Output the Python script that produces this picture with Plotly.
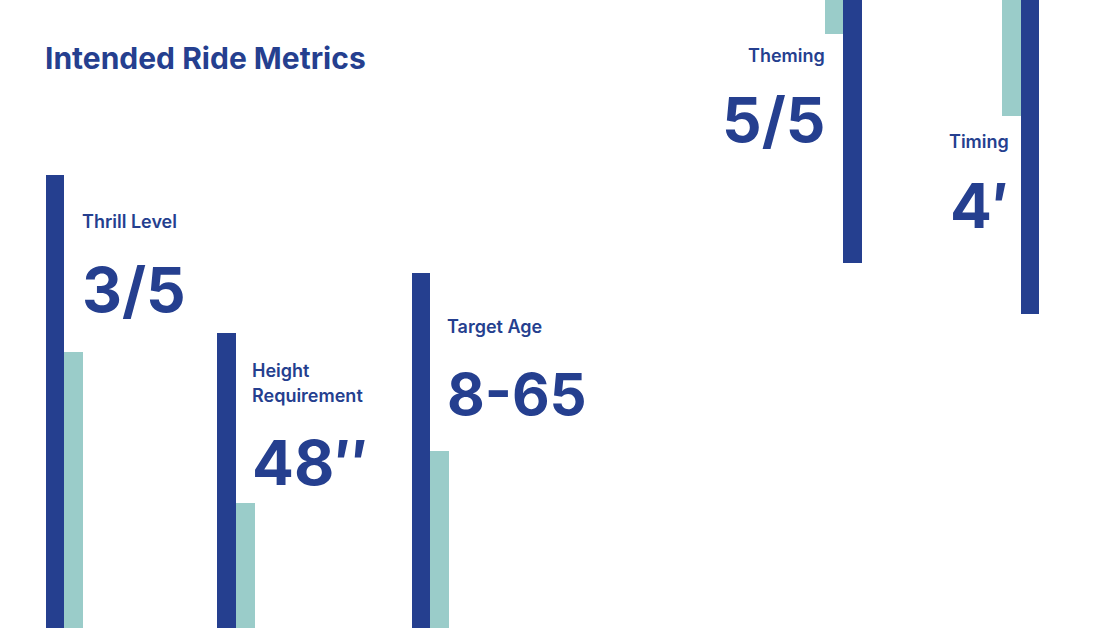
import plotly.graph_objects as go

# ride metrics shown on the card
metrics = ["Thrill Level", "Height<br>Requirement", "Target Age", "Theming", "Timing"]
values = ["3/5", "48\u2033", "8-65", "5/5", "4\u2032"]

# geometry of the decorative bars (pixel space, y grows downward)
bar_w = 18.6
dark_x0 = [45.5, 217.3, 411.8, 843.1, 1020.7]
dark_top = [175, 333, 273, 0, 0]
dark_bottom = [628, 628, 628, 263, 314]
teal_x0 = [64.1, 235.9, 430.4, 824.5, 1002.1]
teal_top = [352, 503, 451, 0, 0]
teal_bottom = [628, 628, 628, 34, 116]

# text placement
label_x = [80, 250, 445, 827, 1011]
label_y = [221, 370, 326, 55, 141]
value_y = [289, 462, 394, 119, 205]
value_size = [62, 62, 58, 62, 62]
align = ["left", "left", "left", "right", "right"]

DARK = "#253f8f"
TEAL = "#9accc9"
W, H = 1116, 628
FONT = "Inter"

fig = go.Figure()
fig.add_trace(go.Bar(
    x=[x + bar_w / 2 for x in dark_x0],
    y=[b - t for t, b in zip(dark_top, dark_bottom)],
    base=dark_top, width=bar_w,
    marker=dict(color=DARK, line=dict(width=0)),
    hoverinfo="skip",
))
fig.add_trace(go.Bar(
    x=[x + bar_w / 2 for x in teal_x0],
    y=[b - t for t, b in zip(teal_top, teal_bottom)],
    base=teal_top, width=bar_w,
    marker=dict(color=TEAL, line=dict(width=0)),
    hoverinfo="skip",
))

fig.add_annotation(x=43, y=58, text="Intended Ride Metrics", showarrow=False,
                   xanchor="left", yanchor="middle",
                   font=dict(family=FONT, size=30, color=DARK, weight=700))

for name, val, lx, ly, vy, vs, al in zip(metrics, values, label_x, label_y,
                                         value_y, value_size, align):
    # label lines placed one by one for a looser line spacing
    for k, line in enumerate(name.split("<br>")):
        fig.add_annotation(x=lx, y=ly + k * 25, text=line, showarrow=False,
                           xanchor=al, yanchor="middle",
                           font=dict(family=FONT, size=18, color=DARK, weight=600))
    fig.add_annotation(x=lx, y=vy, text=val, showarrow=False,
                       xanchor=al, yanchor="middle",
                       font=dict(family=FONT, size=vs, color=DARK, weight=700))

fig.update_layout(
    width=W, height=H,
    margin=dict(l=0, r=0, t=0, b=0),
    paper_bgcolor="white", plot_bgcolor="white",
    showlegend=False, barmode="overlay", bargap=0,
    xaxis=dict(range=[0, W], visible=False, fixedrange=True),
    yaxis=dict(range=[H, 0], visible=False, fixedrange=True),
)

fig.write_html("out.html", config={"displayModeBar": False},
               post_script="document.body.style.margin='0';")
